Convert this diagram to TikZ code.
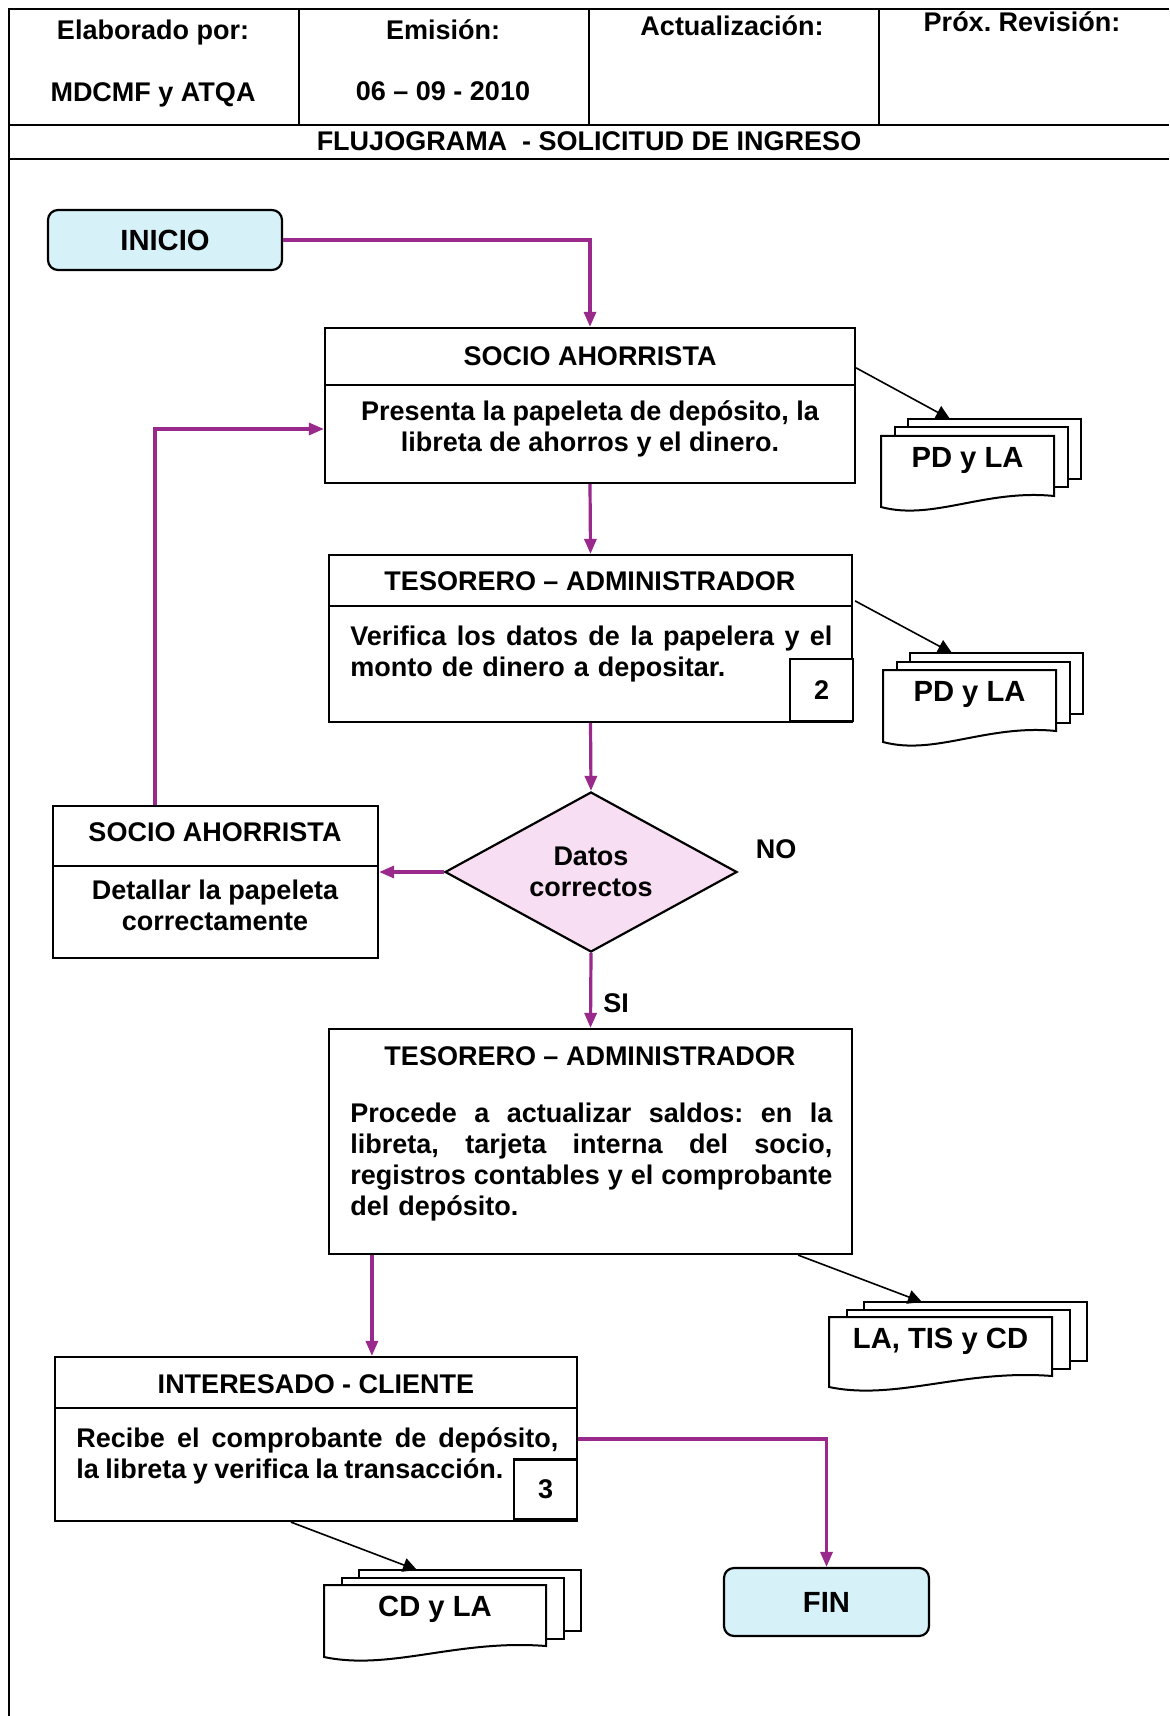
\documentclass[tikz,border=0pt]{standalone}
\usepackage{fontspec}
\setmainfont{Liberation Sans}
\usetikzlibrary{arrows.meta,shapes.geometric,calc}

\definecolor{flowpurple}{RGB}{153,41,139}
\definecolor{startcyan}{RGB}{214,241,248}
\definecolor{decpink}{RGB}{248,222,242}

\tikzset{
  txt/.style={font=\bfseries\fontsize{13.5}{15.5}\selectfont\frenchspacing, inner sep=0pt},
  bigtxt/.style={font=\bfseries\fontsize{14.6}{16}\selectfont, inner sep=0pt},
  frame/.style={draw=black, line width=1.1pt, fill=white, inner sep=0pt},
  terminal/.style={frame, fill=startcyan, rounded corners=5pt, bigtxt},
  divider/.style={draw=black, line width=1.1pt},
  rule/.style={draw=black, line width=1pt},
  flow/.style={draw=flowpurple, color=flowpurple, line width=1.6pt,
    -{Triangle[length=7.5pt,width=6pt]}},
  docarrow/.style={draw=black, line width=0.8pt,
    -{Triangle[length=7pt,width=7pt]}},
  sheet/.style={draw=black, line width=1pt, fill=white},
}

% a line of text spread to the full column width
\newcommand{\jline}[1]{\makebox[241pt][s]{\spaceskip=0.278em plus 1fil\relax #1}}

% stacked document symbol: name, left x, top y, width, height, dx, dy (up), label
\newcommand{\docstack}[8]{%
  \path[sheet] ({#2+2*#6},{#3-2*#7}) rectangle ++(#4,{#5-11});
  \path[sheet] ({#2+#6},{#3-#7}) rectangle ++(#4,{#5-11});
  \path[sheet] (#2,#3) -- ({#2+#4},#3) -- ({#2+#4},{#3+#5-11})
    .. controls ({#2+0.6*#4},{#3+#5-18}) and ({#2+0.3*#4},{#3+#5+14}) .. (#2,{#3+#5}) -- cycle;
  \node[bigtxt] (#1) at ({#2+#4/2},{#3+24}) {#8};
}

\begin{document}
\begin{tikzpicture}[x=0.5pt,y=-0.5pt]
\fill[white] (0,0) rectangle (1169,1716);
\useasboundingbox (0,0) rectangle (1169,1716);

% ---- header table ----
\draw[rule] (9,1716) -- (9,9) -- (1169,9);
\draw[rule] (9,125) -- (1169,125);
\draw[rule] (9,159) -- (1169,159);
\draw[rule] (299,9) -- (299,125);
\draw[rule] (589,9) -- (589,125);
\draw[rule] (879,9) -- (879,125);

\node[txt] (h1) at (153,33) {Elaborado por:};
\node[txt] (h2) at (153,95) {MDCMF y ATQA};
\node[txt] (h3) at (443,30) {Emisión:};
\node[txt] (h4) at (443,91) {06 – 09 - 2010};
\node[txt] (h5) at (732,26) {Actualización:};
\node[txt] (h6) at (1022,22) {Próx. Revisión:};
\node[txt] (h7) at (589,141) {FLUJOGRAMA\ \ - SOLICITUD DE INGRESO};

% ---- terminals ----
\node[terminal, minimum width=117pt, minimum height=30pt] (ini) at (165,240) {INICIO};
\node[terminal, minimum width=102.5pt, minimum height=34pt] (fin) at (826.5,1602) {FIN};

% ---- process boxes ----
\node[frame, minimum width=265pt, minimum height=77.5pt] (b1) at (590,405.5) {};
\draw[divider] (b1.west |- 0,385) -- (b1.east |- 0,385);
\node[txt] (b1t) at (590,356) {SOCIO AHORRISTA};
\node[txt, align=center] (b1b) at (590,429) {Presenta la papeleta de depósito, la\\libreta de ahorros y el dinero.};

\node[frame, minimum width=261.5pt, minimum height=83.5pt] (b2) at (590.5,638.5) {};
\draw[divider] (b2.west |- 0,606) -- (b2.east |- 0,606);
\node[txt] (b2t) at (590,581) {TESORERO – ADMINISTRADOR};
\node[txt, anchor=west, text width=241pt, align=left] (b2b) at (350,654)
  {\jline{Verifica los datos de la papelera y el}\\monto de dinero a depositar.};
\node[frame, txt, minimum width=31.5pt, minimum height=31pt] (n2) at (821.5,690) {2};

\node[frame, minimum width=162.5pt, minimum height=76pt] (b3) at (215.5,882) {};
\draw[divider] (b3.west |- 0,866) -- (b3.east |- 0,866);
\node[txt] (b3t) at (215,832) {SOCIO AHORRISTA};
\node[txt, align=center] (b3b) at (215,905) {Detallar la papeleta\\correctamente};

\node[frame, minimum width=261.5pt, minimum height=112.5pt] (b4) at (590.5,1141.5) {};
\node[txt] (b4t) at (590,1056) {TESORERO – ADMINISTRADOR};
\node[txt, anchor=west, text width=241pt, align=left] (b4b) at (350,1162)
  {\jline{Procede a actualizar saldos: en la}\\
   \jline{libreta, tarjeta interna del socio,}\\
   \jline{registros contables y el comprobante}\\
   del depósito.};

\node[frame, minimum width=261pt, minimum height=82pt] (b5) at (316,1439) {};
\draw[divider] (b5.west |- 0,1408) -- (b5.east |- 0,1408);
\node[txt] (b5t) at (316,1384) {INTERESADO - CLIENTE};
\node[txt, anchor=west, text width=241pt, align=left] (b5b) at (76,1456)
  {\jline{Recibe el comprobante de depósito,}\\{\spaceskip=0.24em\relax la libreta y verifica la transacción.}};
\node[frame, txt, minimum width=31.5pt, minimum height=30pt] (n3) at (545.5,1489.5) {3};

% ---- decision ----
\node[draw=black, line width=1.1pt, fill=decpink, shape=diamond, aspect=1.825,
      minimum width=146pt, minimum height=80pt, txt, align=center] (dec) at (591,872) {Datos\\correctos};
\node[txt] (lno) at (776,849) {NO};
\node[txt] (lsi) at (616,1003) {SI};

% ---- document stacks ----
\docstack{d1}{881}{436}{173}{71}{13.5}{8.5}{PD y LA}
\docstack{d2}{883}{670}{173}{72}{13.5}{8.5}{PD y LA}
\docstack{d3}{829}{1317}{223}{70}{17.5}{7.5}{LA, TIS y CD}
\docstack{d4}{324}{1585}{222}{72}{17.5}{7.5}{CD y LA}

\coordinate (d1in) at (950,419);
\coordinate (d2in) at (952,653);
\coordinate (d3in) at (922,1302);
\coordinate (d4in) at (417,1570);

% ---- connectors ----
\draw[flow] (ini.east) -| (b1.north);
\draw[flow] (b1.south) -- (b2.north);
\draw[flow] (b2.south) -- (dec.north);
\draw[flow] (dec.west) -- (dec.west -| b3.east);
\coordinate (loop) at (155,429);
\draw[flow] (b3.north -| loop) |- (b1.west |- loop);
\draw[flow] (dec.south) -- (b4.north);
\coordinate (b4out) at ($(b4.south west)+(44,0)$);
\draw[flow] (b4out) -- (b4out |- b5.north);
\draw[flow] (b5.east) -| (fin.north);

\draw[docarrow] ($(b1.north east)+(0,41)$) -- (d1in);
\draw[docarrow] ($(b2.north east)+(2,47)$) -- (d2in);
\draw[docarrow] ($(b4.south east)+(-55,0)$) -- (d3in);
\draw[docarrow] ($(b5.south west)+(237,0)$) -- (d4in);
\end{tikzpicture}
\end{document}
